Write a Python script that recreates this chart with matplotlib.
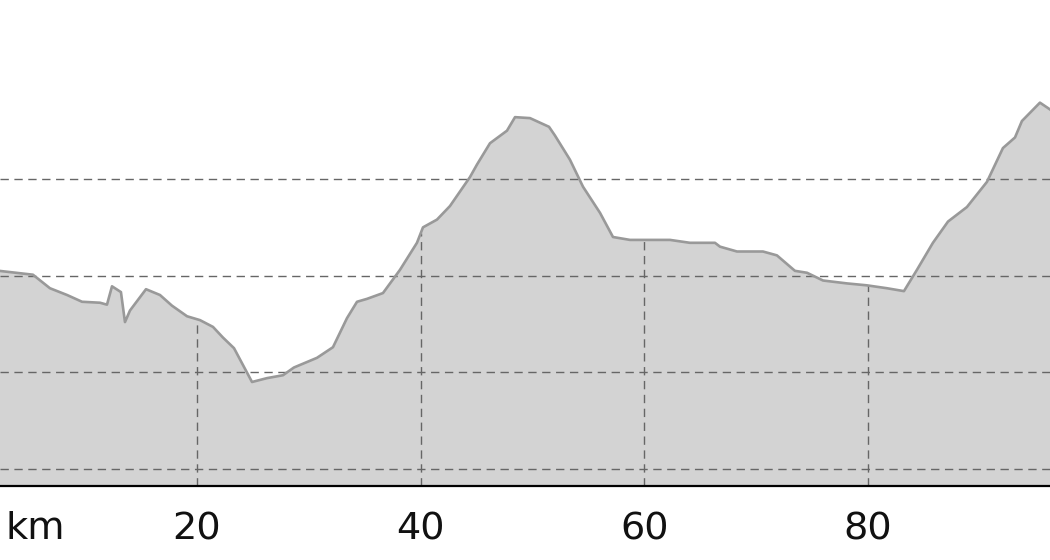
import numpy as np
import matplotlib
matplotlib.use('Agg')
from matplotlib import pyplot as plt

# Elevation profile (distance in km, elevation in m)
km = [2.3, 5.33, 6.85, 8.38, 9.72, 11.33, 11.95, 12.40, 13.20, 13.56, 14.01,
      15.44, 16.69, 17.76, 19.11, 20.27, 21.43, 22.32, 23.31, 24.92, 26.26,
      27.69, 28.67, 30.73, 32.16, 33.41, 34.31, 35.20, 36.63, 38.15, 39.67,
      40.21, 41.46, 42.62, 44.41, 45.04, 46.20, 47.72, 48.44, 49.78, 51.48,
      52.01, 53.35, 54.52, 56.04, 57.20, 58.72, 60.51, 62.30, 64.08, 66.32,
      66.77, 68.29, 70.61, 71.86, 73.47, 74.55, 75.98, 78.12, 79.91, 81.70,
      83.22, 84.38, 85.81, 87.16, 88.85, 90.64, 92.07, 93.15, 93.77, 95.38,
      96.28, 96.6]
elev = [405, 401, 387, 380, 373, 372, 370, 389, 383, 352, 364,
        386, 380, 369, 358, 354, 347, 336, 325, 290, 294,
        297, 305, 315, 326, 356, 373, 376, 382, 406, 434,
        450, 458, 472, 502, 515, 537, 550, 564, 563, 554,
        545, 520, 492, 465, 440, 437, 437, 437, 434, 434,
        430, 425, 425, 421, 405, 403, 395, 392, 390, 387,
        384, 406, 434, 456, 471, 497, 532, 543, 560, 579,
        572, 569]

x_ticks = [20, 40, 60, 80]
y_grid = [200, 300, 400, 500]
unit_pos = 5.56

fig = plt.figure(figsize=(10.5, 5.6), dpi=100)
ax = fig.add_axes([0, 74 / 560, 1, 486 / 560])

ymin = 182.4
ax.fill_between(km, elev, ymin, color='#d3d3d3', lw=0, zorder=1)
ax.plot(km, elev, color='#999999', lw=1.9, zorder=4, solid_joinstyle='round')

# horizontal grid across the whole width
for g in y_grid:
    ax.axhline(g, color='#666666', lw=1.0, ls=(0, (6, 4)), zorder=2)
# vertical grid only under the profile
tops = np.interp(x_ticks, km, elev)
ax.vlines(x_ticks, ymin, tops, color='#666666', lw=1.0, ls=(0, (6, 4)), zorder=2)

ax.set_xlim(2.384, 96.28)
ax.set_ylim(ymin, 685.2)

for s in ['top', 'left', 'right']:
    ax.spines[s].set_visible(False)
ax.spines['bottom'].set_color('black')
ax.spines['bottom'].set_linewidth(1.6)
ax.spines['bottom'].set_zorder(5)

ax.set_xticks([unit_pos] + x_ticks)
ax.set_xticklabels(['km'] + [str(t) for t in x_ticks])
ax.tick_params(axis='x', length=0, pad=18, labelsize=27.5, labelcolor='#111111')
ax.set_yticks([])

fig.savefig('out.png', dpi=100)
